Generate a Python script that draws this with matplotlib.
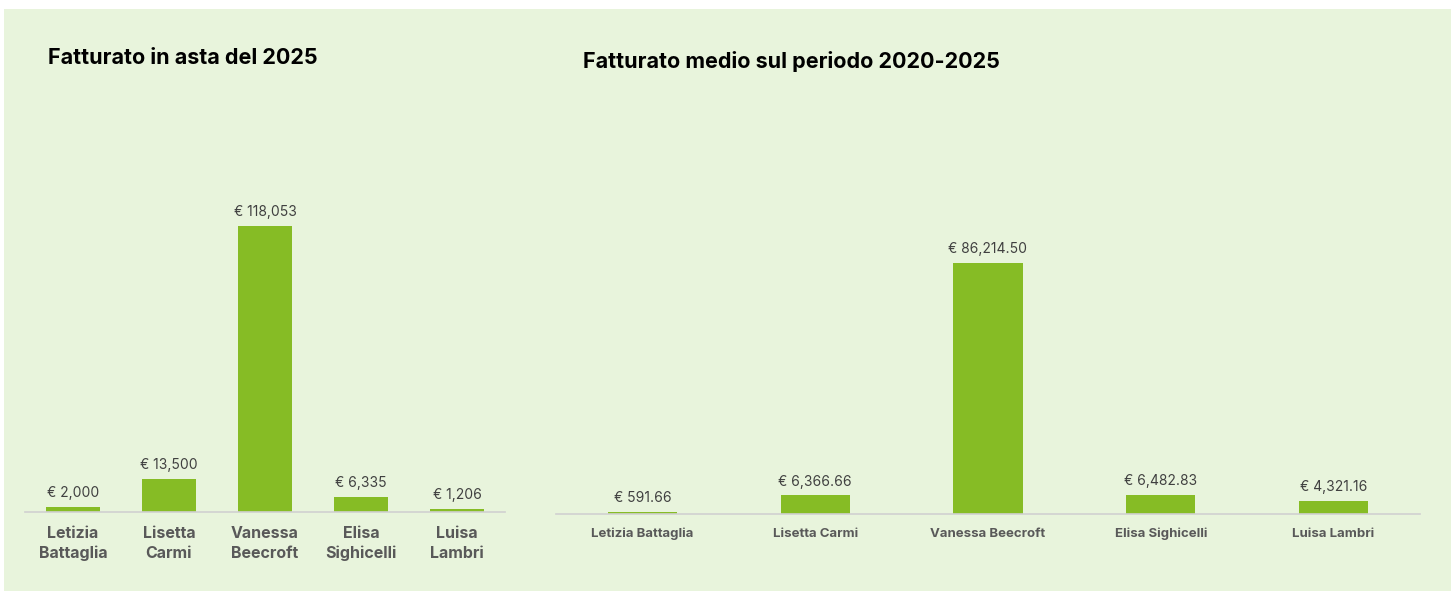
import matplotlib.pyplot as plt
from matplotlib.patches import Rectangle

# data
artists = ["Letizia Battaglia", "Lisetta Carmi", "Vanessa Beecroft", "Elisa Sighicelli", "Luisa Lambri"]
artists_wrapped = ["Letizia\nBattaglia", "Lisetta\nCarmi", "Vanessa\nBeecroft", "Elisa\nSighicelli", "Luisa\nLambri"]
sales_2025 = [2000, 13500, 118053, 6335, 1206]
avg_2020_2025 = [591.66, 6366.66, 86214.50, 6482.83, 4321.16]

W, H = 1455, 591
bg = "#E8F4DC"
bar_col = "#86BC25"
plt.rcParams['font.family'] = ['Inter', 'DejaVu Sans']

fig = plt.figure(figsize=(W / 100, H / 100), dpi=100)
fig.patch.set_facecolor("white")
fig.add_artist(Rectangle((4 / W, 0), (W - 8) / W, (H - 9) / H,
                         transform=fig.transFigure, facecolor=bg, edgecolor="none", zorder=-1))


def px_axes(x0, x1, ytop, ybot):
    return fig.add_axes([x0 / W, 1 - ybot / H, (x1 - x0) / W, (ybot - ytop) / H])


def style(ax, pad):
    ax.set_facecolor("none")
    for s in ["top", "right", "left"]:
        ax.spines[s].set_visible(False)
    ax.spines["bottom"].set_color("#D0D0D0")
    ax.spines["bottom"].set_linewidth(1.2)
    ax.set_yticks([])
    ax.tick_params(axis="x", length=0, pad=pad)


# left chart
ax1 = px_axes(25, 505, 100, 512)
style(ax1, 10)
bars = ax1.bar(range(len(sales_2025)), sales_2025, width=0.57, color=bar_col)
ax1.set_xlim(-0.5, len(sales_2025) - 0.5)
ax1.set_ylim(0, 118053 * 412 / 286)
ax1.set_xticks(range(len(artists_wrapped)))
ax1.set_xticklabels(artists_wrapped, fontsize=11.5, fontweight="bold", color="#595959", linespacing=1.4)
ax1.bar_label(bars, labels=[f"€ {v:,}" for v in sales_2025], padding=5, fontsize=10, color="#404040")
fig.text(48 / W, 1 - 58 / H, "Fatturato in asta del 2025", fontsize=15.5, fontweight="bold",
         color="black", va="center", ha="left")

# right chart
ax2 = px_axes(556, 1420, 100, 514)
style(ax2, 10)
bars2 = ax2.bar(range(len(avg_2020_2025)), avg_2020_2025, width=0.40, color=bar_col)
ax2.set_xlim(-0.5, len(avg_2020_2025) - 0.5)
ax2.set_ylim(0, 86214.5 * 414 / 251)
ax2.set_xticks(range(len(artists)))
ax2.set_xticklabels(artists, fontsize=9.5, fontweight="bold", color="#595959")
ax2.bar_label(bars2, labels=[f"€ {v:,.2f}" for v in avg_2020_2025], padding=5, fontsize=10, color="#404040")
fig.text(583 / W, 1 - 62 / H, "Fatturato medio sul periodo 2020-2025", fontsize=15.5, fontweight="bold",
         color="black", va="center", ha="left")

fig.savefig("out.png", dpi=100, facecolor=fig.get_facecolor())
